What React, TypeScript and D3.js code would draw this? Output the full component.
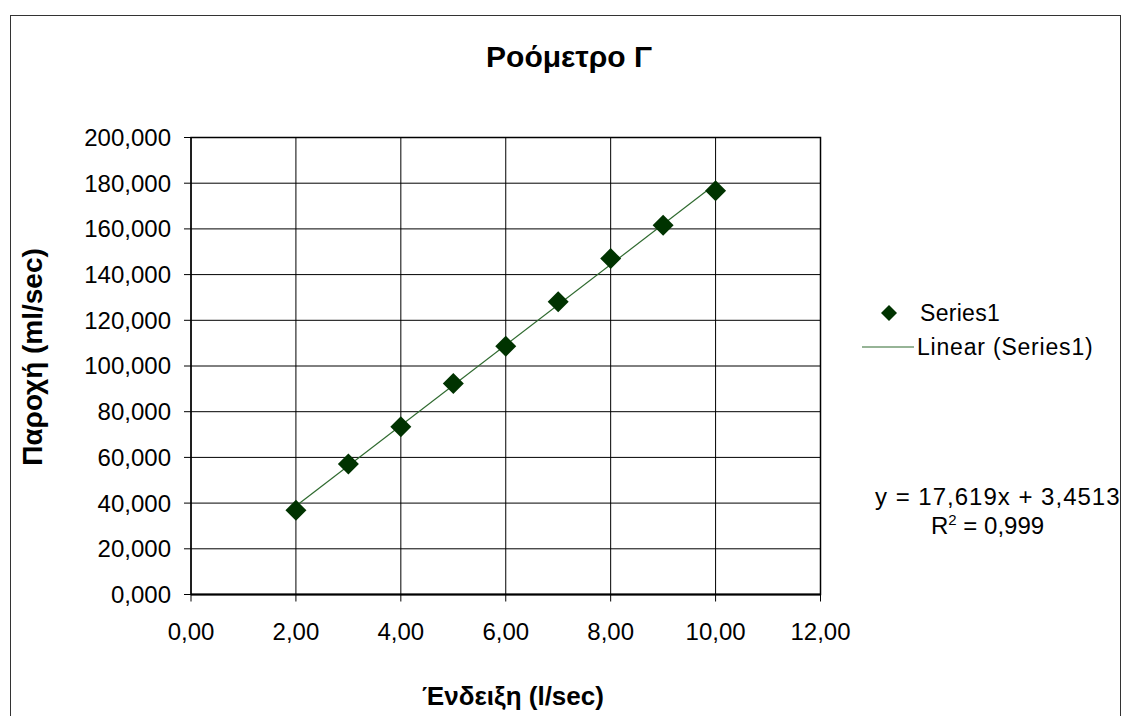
import * as d3 from "d3";

// Flow meter calibration data (reading in l/sec vs measured flow)
const readings = [2, 3, 4, 5, 6, 7, 8, 9, 10];
const flows = [36.85, 57.1, 73.4, 92.3, 108.6, 128.1, 147.0, 161.6, 176.7];
const xTicks = [0, 2, 4, 6, 8, 10, 12];
const yTicks = [0, 20, 40, 60, 80, 100, 120, 140, 160, 180, 200];
const trendSlope = 17.619;
const trendIntercept = 3.4513;
const trendLabel = "y = 17,619x + 3,4513";
const r2Label = "0,999";

const title = "Ροόμετρο Γ";
const xTitle = "Ένδειξη (l/sec)";
const yTitle = "Παροχή (ml/sec)";
const seriesName = "Series1";
const trendName = "Linear (Series1)";

const W = 1122;
const H = 716;
const plot = { left: 191, right: 820.5, top: 137.5, bottom: 594.5 };
const font = "'Liberation Sans', Arial, sans-serif";
const markerColor = "#003300";
const trendColor = "#2f6a2f";

const locale = d3.formatLocale({ decimal: ",", thousands: ".", grouping: [3], currency: ["", ""] });
const fmtX = locale.format(".2f");
const fmtY = locale.format(".3f");

function diamond(cx: number, cy: number, r: number) {
  return `M${cx},${cy - r}L${cx + r},${cy}L${cx},${cy + r}L${cx - r},${cy}Z`;
}

export default function App() {
  const x = d3.scaleLinear().domain([0, 12]).range([plot.left, plot.right]);
  const y = d3.scaleLinear().domain([0, 200]).range([plot.bottom, plot.top]);

  const x0 = d3.min(readings)!;
  const x1 = d3.max(readings)!;
  const trend = d3.line<number>()
    .x((d) => x(d))
    .y((d) => y(trendSlope * d + trendIntercept))([x0, x1]);

  return (
    <svg
      width={W}
      height={H}
      style={{ position: "absolute", left: 0, top: 0, background: "#fff" }}
      fontFamily={font}
    >
      <rect x={10.5} y={15.5} width={1110} height={740} fill="#fff" stroke="#333" strokeWidth={1} />

      <text x={569} y={67} textAnchor="middle" fontSize={30} fontWeight="bold">
        {title}
      </text>

      {/* grid */}
      {yTicks.map((t) => (
        <line key={"gy" + t} x1={plot.left} x2={plot.right} y1={y(t)} y2={y(t)} stroke="#000" strokeWidth={1} />
      ))}
      {xTicks.map((t) => (
        <line key={"gx" + t} x1={x(t)} x2={x(t)} y1={plot.top} y2={plot.bottom} stroke="#000" strokeWidth={1} />
      ))}
      <rect
        x={plot.left}
        y={plot.top}
        width={plot.right - plot.left}
        height={plot.bottom - plot.top}
        fill="none"
        stroke="#000"
        strokeWidth={1.5}
      />
      <line x1={plot.left} x2={plot.right} y1={plot.bottom} y2={plot.bottom} stroke="#000" strokeWidth={2} />

      {/* y axis */}
      {yTicks.map((t) => (
        <g key={"ty" + t}>
          <line x1={plot.left - 7} x2={plot.left} y1={y(t)} y2={y(t)} stroke="#000" />
          <text x={171} y={y(t)} dy="0.35em" textAnchor="end" fontSize={24}>
            {fmtY(t)}
          </text>
        </g>
      ))}
      {/* x axis */}
      {xTicks.map((t) => (
        <g key={"tx" + t}>
          <line x1={x(t)} x2={x(t)} y1={plot.bottom} y2={plot.bottom + 7} stroke="#000" />
          <text x={x(t)} y={640} textAnchor="middle" fontSize={24}>
            {fmtX(t)}
          </text>
        </g>
      ))}

      <text x={513} y={705} textAnchor="middle" fontSize={26} fontWeight="bold">
        {xTitle}
      </text>
      <text
        transform={`translate(42,${(plot.top + plot.bottom) / 2 - 9}) rotate(-90)`}
        textAnchor="middle"
        fontSize={28}
        fontWeight="bold"
      >
        {yTitle}
      </text>

      {/* trendline */}
      <path d={trend ?? ""} fill="none" stroke={trendColor} strokeWidth={1.2} />

      {/* markers */}
      {readings.map((r, i) => (
        <path key={"m" + i} d={diamond(x(r), y(flows[i]), 10.5)} fill={markerColor} />
      ))}

      {/* legend */}
      <path d={diamond(889, 313, 8)} fill={markerColor} />
      <text x={920} y={321} fontSize={23} letterSpacing={0.3}>
        {seriesName}
      </text>
      <line x1={862} x2={914} y1={347} y2={347} stroke={trendColor} strokeWidth={1.2} />
      <text x={917} y={355} fontSize={23} letterSpacing={0.8}>
        {trendName}
      </text>

      {/* equation */}
      <text x={875} y={505} fontSize={24} letterSpacing={1}>
        {trendLabel}
      </text>
      <text x={931} y={534} fontSize={24}>
        R<tspan dy={-9} fontSize={15}>2</tspan>
        <tspan dy={9}> = {r2Label}</tspan>
      </text>
    </svg>
  );
}
